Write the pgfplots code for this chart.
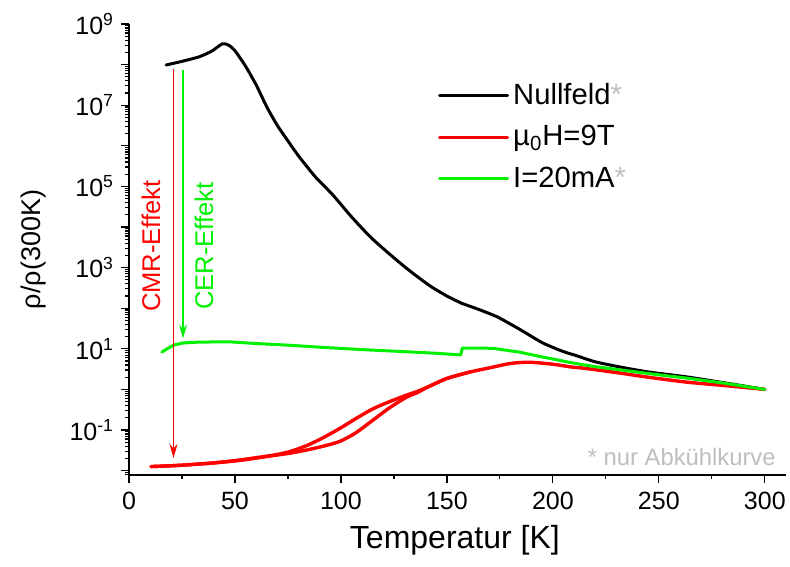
\documentclass[border=0pt]{standalone}
\usepackage{fontspec}
\setmainfont{Liberation Sans}
\usepackage{pgfplots}
\usepackage{pgfplotstable}
\pgfplotsset{compat=1.18}
\usetikzlibrary{arrows.meta}

\definecolor{cred}{RGB}{255,0,0}
\definecolor{cgreen}{RGB}{0,240,0}
\definecolor{cgray}{RGB}{190,190,190}

% minor log ticks 2..9 in every decade
\def\minorlist{8e-3,9e-3}
\pgfplotsforeachungrouped \d in {-2,...,8}{%
  \pgfplotsforeachungrouped \k in {2,...,9}{%
    \edef\minorlist{\minorlist,\k e\d}}}

% curves: T [K], log10 of rho/rho(300K)
\pgfplotstableread{
T     L
17.5  7.99
25    8.08
33    8.19
39    8.33
44    8.51
47    8.48
50    8.34
55    7.96
60    7.50
65    6.96
70    6.50
75    6.12
80    5.75
88    5.23
96    4.80
105   4.25
114   3.75
123   3.33
132   2.94
142   2.55
150   2.30
155   2.17
157   2.12
165   1.97
174   1.78
185   1.46
195   1.15
205   0.93
210   0.85
220   0.68
232   0.55
245   0.43
263   0.31
280   0.17
300   0.00
}\nullfeld

% 9 T, cooling branch (300 K down to 10 K)
\pgfplotstableread{
T     L
300   0.00
280   0.10
263   0.18
245   0.30
232   0.40
215   0.52
209   0.55
200   0.62
189   0.67
180   0.64
170   0.53
161   0.43
150   0.27
141   0.06
136  -0.08
131  -0.19
123  -0.45
115  -0.76
107  -1.07
99.5 -1.28
91.6 -1.40
84   -1.49
76   -1.57
68   -1.63
52   -1.75
40   -1.81
27   -1.86
20   -1.88
10.4 -1.90
}\feldab

% 9 T, warming branch
\pgfplotstableread{
T     L
10.4 -1.90
20   -1.88
27   -1.86
40   -1.81
52   -1.74
68   -1.62
76   -1.53
84   -1.38
91.6 -1.19
99.5 -0.96
107  -0.72
115  -0.48
123  -0.30
131  -0.14
136  -0.05
141   0.06
150   0.27
161   0.43
}\feldauf

\pgfplotstableread{
T     L
15.5  0.92
18    1.00
21    1.09
25    1.14
30    1.16
40    1.17
48    1.17
60    1.13
75    1.09
90    1.04
110   0.98
130   0.93
145   0.89
156.5 0.85
157.3 1.02
165   1.02
172   1.01
184   0.92
195   0.80
209.5 0.65
220   0.56
232   0.48
250   0.36
263   0.28
280   0.16
300   0.00
}\strom

\begin{document}
\begin{tikzpicture}
\begin{semilogyaxis}[
    scale only axis,
    width=328.5pt, height=225.5pt,
    xmin=0, xmax=310,
    ymin=7.8e-3, ymax=1e9,
    axis x line*=bottom,
    axis y line*=left,
    axis line style={line width=0.9pt},
    tick align=outside,
    major tick length=4pt,
    minor tick length=2pt,
    every tick/.style={black, line width=0.6pt},
    xtick={0,50,...,300},
    minor xtick={25,75,...,275},
    ytickten={-2,...,9},
    minor ytick/.expanded={\minorlist},
    yticklabels={,10\textsuperscript{-1},,10\textsuperscript{1},,10\textsuperscript{3},,10\textsuperscript{5},,10\textsuperscript{7},,10\textsuperscript{9}},
    /pgf/number format/assume math mode=true,
    tick label style={font=\fontsize{12.5}{15}\selectfont},
    xticklabel style={yshift=-1pt},
    xlabel={Temperatur [K]},
    ylabel={ρ/ρ(300K)},
    xlabel style={font=\fontsize{16}{19}\selectfont, at={(axis description cs:0.496,-0.144)}, anchor=center},
    ylabel style={font=\fontsize{13.5}{16}\selectfont, at={(axis description cs:-0.146,0.5)}, anchor=center},
    legend style={at={(axis description cs:0.47,0.878)}, anchor=north west, draw=none, fill=none,
        font=\fontsize{14.6}{17}\selectfont, row sep=5pt, inner sep=0pt},
    legend cell align=left,
    legend image code/.code={\draw[#1, line width=1.5pt] (0pt,0pt) -- (34pt,0pt);},
    every axis plot/.append style={line join=round, line cap=round},
]
\addplot[black, line width=1.5pt, smooth, tension=0.4] table[x=T, y expr=10^\thisrow{L}] {\nullfeld};
\addlegendentry{Nullfeld\textcolor{cgray}{*}}
\addplot[cred, line width=1.7pt, smooth, tension=0.4] table[x=T, y expr=10^\thisrow{L}] {\feldab};
\addlegendentry{µ\textsubscript{0}H=9T}
\addplot[cred, line width=1.7pt, smooth, tension=0.4, forget plot] table[x=T, y expr=10^\thisrow{L}] {\feldauf};
\addplot[cgreen, line width=1.5pt] table[x=T, y expr=10^\thisrow{L}] {\strom};
\addlegendentry{I=20mA\textcolor{cgray}{*}}

\addplot[draw=cred, fill=cred, line width=0.7pt, line cap=butt, -{Stealth[length=7pt, width=4pt]}, forget plot]
    coordinates {(21,7.8e7) (21,0.0205)};
\addplot[draw=cgreen, fill=cgreen, line width=0.65pt, line cap=butt, -{Stealth[length=7pt, width=4pt]}, forget plot]
    coordinates {(25.5,7.2e7) (25.5,18)};

\node[rotate=90, text=cred, font=\fontsize{12.8}{15}\selectfont] at (axis cs:10.4,3400) {CMR-Effekt};
\node[rotate=90, text=cgreen, font=\fontsize{12.8}{15}\selectfont] at (axis cs:35.4,3400) {CER-Effekt};
\node[anchor=base east, text=cgray, font=\fontsize{11.9}{14}\selectfont] at (axis description cs:0.995,0.02) {* nur Abkühlkurve};
\end{semilogyaxis}
\pgfresetboundingbox
\useasboundingbox (-64.5pt,-45.5pt) rectangle (330.5pt,237.5pt);
\end{tikzpicture}
\end{document}
